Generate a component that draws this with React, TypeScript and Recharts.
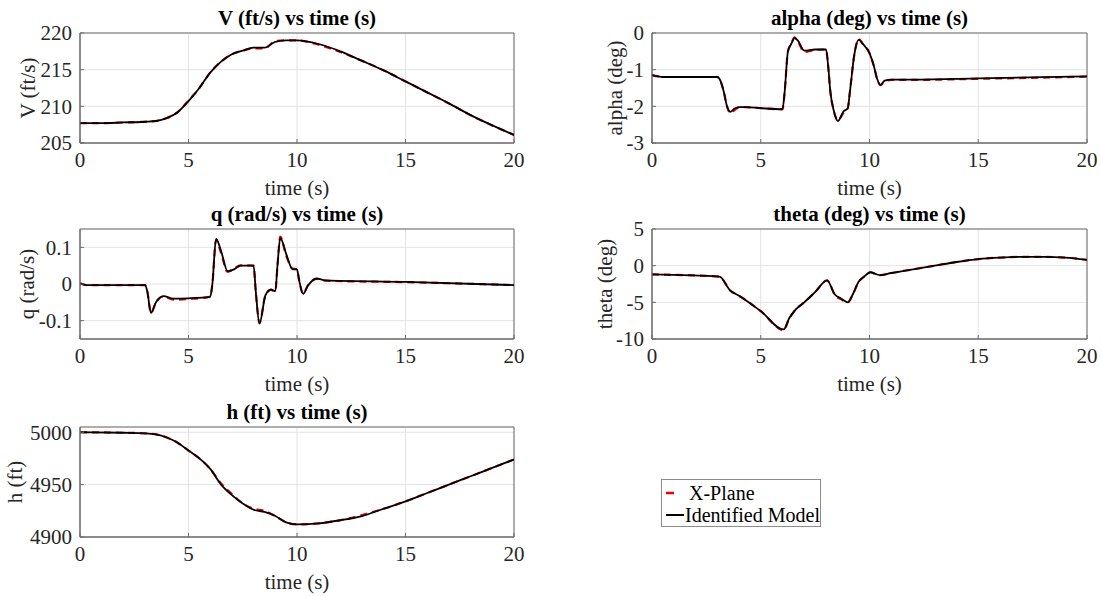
import React from 'react';
import {
  LineChart,
  Line,
  XAxis,
  YAxis,
  CartesianGrid,
  ReferenceArea,
} from 'recharts';

// ---- data (t in seconds) ----
const seriesNames = ['X-Plane', 'Identified Model'];
const timeTicks = [0, 5, 10, 15, 20];

const vTime = [0, 1, 2, 3, 3.5, 4, 4.5, 5, 5.5, 6, 6.5, 7, 7.5, 8, 8.5, 9, 9.5, 10, 11, 12, 13, 14, 15, 16, 17, 18, 19, 20];
const vXPlane = [207.7, 207.7, 207.8, 207.9, 208.0, 208.4, 209.2, 210.8, 212.5, 214.6, 216.1, 217.1, 217.6, 217.9, 217.9, 218.9, 219.0, 219.0, 218.4, 217.4, 216.2, 214.9, 213.4, 211.9, 210.4, 208.8, 207.4, 206.1];
const vModel = [207.7, 207.7, 207.8, 207.9, 208.0, 208.4, 209.2, 210.7, 212.5, 214.6, 216.1, 217.1, 217.6, 218.0, 218.0, 218.8, 219.0, 219.0, 218.5, 217.5, 216.2, 214.9, 213.4, 211.9, 210.4, 208.8, 207.4, 206.1];
const vTicks = [205, 210, 215, 220];

const aTime = [0, 0.5, 3, 3.1, 3.3, 3.45, 3.6, 3.8, 4, 4.3, 5, 6, 6.1, 6.25, 6.4, 6.55, 6.7, 7, 7.5, 8, 8.1, 8.2, 8.35, 8.55, 8.8, 9, 9.1, 9.3, 9.5, 9.7, 10, 10.2, 10.35, 10.5, 10.7, 11, 12, 15, 20];
const aXPlane = [-1.15, -1.2, -1.2, -1.25, -1.6, -2.0, -2.19, -2.1, -2.03, -2.02, -2.05, -2.08, -1.6, -0.5, -0.3, -0.12, -0.22, -0.52, -0.46, -0.45, -0.9, -1.6, -2.1, -2.38, -2.18, -2.05, -1.6, -0.6, -0.16, -0.3, -0.55, -0.9, -1.25, -1.42, -1.32, -1.28, -1.28, -1.25, -1.19];
const aModel = [-1.15, -1.2, -1.2, -1.25, -1.6, -2.0, -2.15, -2.06, -2.02, -2.02, -2.05, -2.08, -1.6, -0.5, -0.3, -0.14, -0.2, -0.48, -0.45, -0.45, -0.9, -1.6, -2.1, -2.4, -2.14, -2.05, -1.6, -0.6, -0.19, -0.3, -0.55, -0.9, -1.25, -1.42, -1.3, -1.27, -1.27, -1.24, -1.18];
const aTicks = [-3, -2, -1, 0];

const qTime = [0, 0.3, 3, 3.1, 3.27, 3.5, 3.85, 4.3, 5, 6, 6.1, 6.27, 6.5, 6.8, 7.1, 7.4, 8, 8.1, 8.27, 8.55, 8.8, 9, 9.1, 9.23, 9.5, 9.8, 10, 10.1, 10.28, 10.5, 10.9, 11.3, 15, 20];
const qXPlane = [0.002, -0.003, -0.003, -0.02, -0.079, -0.05, -0.034, -0.043, -0.041, -0.035, 0.0, 0.12, 0.085, 0.033, 0.042, 0.051, 0.05, -0.02, -0.106, -0.03, -0.016, -0.02, 0.05, 0.129, 0.078, 0.042, 0.04, 0.01, -0.026, -0.004, 0.014, 0.009, 0.005, -0.003];
const qModel = [0.002, -0.003, -0.003, -0.02, -0.079, -0.05, -0.033, -0.04, -0.039, -0.035, 0.0, 0.123, 0.09, 0.035, 0.04, 0.05, 0.05, -0.02, -0.108, -0.03, -0.015, -0.02, 0.05, 0.126, 0.082, 0.04, 0.04, 0.01, -0.027, -0.005, 0.015, 0.01, 0.006, -0.003];
const qTicks = [-0.1, 0, 0.1];

const thTime = [0, 3.1, 3.6, 4, 5, 6.05, 6.3, 6.6, 7, 7.5, 8.05, 8.4, 8.7, 9.0, 9.25, 9.5, 9.75, 10.05, 10.25, 10.5, 11, 12, 13, 14, 15, 16, 17, 18, 19, 20];
const thXPlane = [-1.2, -1.5, -3.4, -4.1, -6.2, -8.8, -7.3, -6.0, -5.0, -3.6, -2.0, -3.95, -4.6, -5.0, -3.8, -2.2, -1.5, -0.9, -1.1, -1.3, -1.0, -0.5, 0.0, 0.5, 0.9, 1.1, 1.2, 1.2, 1.1, 0.8];
const thModel = [-1.2, -1.5, -3.4, -4.1, -6.2, -8.7, -7.2, -6.0, -5.0, -3.6, -2.0, -3.9, -4.5, -5.0, -3.8, -2.2, -1.5, -0.9, -1.1, -1.3, -1.0, -0.5, 0.0, 0.5, 0.9, 1.1, 1.2, 1.2, 1.1, 0.8];
const thTicks = [-10, -5, 0, 5];

const hTime = [0, 2, 3, 3.5, 4, 4.5, 5, 5.5, 6, 6.5, 7, 7.5, 8, 8.5, 9, 9.5, 10, 11, 12, 13, 14, 15, 16, 17, 18, 19, 20];
const hXPlane = [5000, 4999.5, 4999, 4998, 4995, 4990, 4982.5, 4975, 4965, 4951, 4941, 4932, 4927, 4925, 4920, 4914, 4912, 4913, 4916, 4921, 4927, 4934, 4942, 4950, 4958, 4966, 4974];
const hModel = [5000, 4999.5, 4999, 4998, 4995, 4990, 4982.5, 4975, 4965, 4950, 4940, 4932, 4926, 4924, 4920, 4914, 4912, 4913, 4916, 4920, 4927, 4934, 4942, 4950, 4958, 4966, 4974];
const hTicks = [4900, 4950, 5000];

const FONT = '"Liberation Serif", "Times New Roman", serif';
const TEXT = '#262626';
const AXIS = '#6b6b6b';
const FS = 21;

const Y_AXIS_W = 80;
const TOP_PAD = 33;
const X_AXIS_H = 58;
const RIGHT_PAD = 12;
const PLOT_H = 110;

function buildRows(time: number[], xp: number[], md: number[]) {
  return time.map((t, i) => ({ t, xplane: xp[i], model: md[i] }));
}

interface SubPlotProps {
  left: number;
  top: number;
  plotW: number;
  title: string;
  yLabel: string;
  yLabelOffset: number;
  data: Array<{ t: number; xplane: number; model: number }>;
  domain: [number, number];
  ticks: number[];
}

const SubPlot: React.FC<SubPlotProps> = ({ left, top, plotW, title, yLabel, yLabelOffset, data, domain, ticks }) => {
  const width = Y_AXIS_W + plotW + RIGHT_PAD;
  const height = TOP_PAD + PLOT_H + X_AXIS_H;

  const yLabelContent = (props: any) => {
    const vb = props.viewBox || { x: 0, y: TOP_PAD, width: Y_AXIS_W, height: PLOT_H };
    const cx = vb.x + vb.width + yLabelOffset;
    const cy = vb.y + vb.height / 2;
    return (
      <text x={cx} y={cy} transform={`rotate(-90 ${cx} ${cy})`} textAnchor="middle"
        dominantBaseline="central" fontSize={FS} fontFamily={FONT} fill={TEXT}>
        {yLabel}
      </text>
    );
  };

  const xLabelContent = (props: any) => {
    const vb = props.viewBox || { x: Y_AXIS_W, y: TOP_PAD + PLOT_H, width: plotW, height: X_AXIS_H };
    return (
      <text x={vb.x + vb.width / 2} y={vb.y + 45} textAnchor="middle" dominantBaseline="central"
        fontSize={FS} fontFamily={FONT} fill={TEXT}>
        time (s)
      </text>
    );
  };

  return (
    <div style={{ position: 'absolute', left, top, width, height }}>
      <div style={{
        position: 'absolute', left: Y_AXIS_W, width: plotW, top: 8, lineHeight: '20px',
        textAlign: 'center', fontFamily: FONT, fontWeight: 'bold', fontSize: FS, color: '#000',
      }}>
        {title}
      </div>
      <LineChart width={width} height={height} data={data} style={{ fontFamily: FONT }}
        margin={{ top: TOP_PAD, right: RIGHT_PAD, left: 0, bottom: 0 }}>
        <CartesianGrid stroke="#e3e3e3" />
        <XAxis dataKey="t" type="number" domain={[0, 20]} ticks={timeTicks} allowDataOverflow
          height={X_AXIS_H} tickSize={-4} tickMargin={13} interval={0}
          stroke={AXIS} tick={{ fill: TEXT, fontSize: FS, fontFamily: FONT }}
          label={xLabelContent} />
        <YAxis type="number" domain={domain} ticks={ticks} allowDataOverflow width={Y_AXIS_W}
          tickSize={-4} tickMargin={12} interval={0}
          stroke={AXIS} tick={{ fill: TEXT, fontSize: FS, fontFamily: FONT }}
          label={yLabelContent} />
        <ReferenceArea x1={0} x2={20} y1={domain[0]} y2={domain[1]} fill="none" stroke={AXIS} strokeWidth={1} />
        <Line type="monotone" dataKey="xplane" name={seriesNames[0]} stroke="#ee0000" strokeWidth={2.2}
          strokeDasharray="7 5" dot={false} isAnimationActive={false} />
        <Line type="monotone" dataKey="model" name={seriesNames[1]} stroke="#000000" strokeWidth={1.8}
          dot={false} isAnimationActive={false} />
      </LineChart>
    </div>
  );
};

const Legend: React.FC = () => (
  <div style={{
    position: 'absolute', left: 661, top: 479, width: 158, height: 46, border: '1px solid #8c8c8c',
    background: '#fff', fontFamily: FONT, fontSize: 20, color: '#000',
  }}>
    <div style={{ position: 'absolute', left: 3, top: 2, height: 22, display: 'flex', alignItems: 'center' }}>
      <svg width={24} height={22}><line x1={1} y1={11} x2={9} y2={11} stroke="#ee0000" strokeWidth={2.5} /></svg>
      <span style={{ lineHeight: '22px' }}>{seriesNames[0]}</span>
    </div>
    <div style={{ position: 'absolute', left: 3, top: 24, height: 22, display: 'flex', alignItems: 'center' }}>
      <svg width={20} height={22}><line x1={1} y1={11} x2={19} y2={11} stroke="#000" strokeWidth={2} /></svg>
      <span style={{ lineHeight: '22px' }}>{seriesNames[1]}</span>
    </div>
  </div>
);

export default function App() {
  const colL = [80, 652];
  const colW = [434, 435];
  const rowT = [33, 229, 427];
  return (
    <div style={{ position: 'absolute', left: 0, top: 0, width: 1101, height: 596, background: '#fff', overflow: 'hidden' }}>
      <style>{`.recharts-text, .recharts-cartesian-axis-tick-value { font-family: ${FONT}; }`}</style>
      <SubPlot left={colL[0] - Y_AXIS_W} top={rowT[0] - TOP_PAD} plotW={colW[0]} title="V (ft/s) vs time (s)" yLabel="V (ft/s)"
        yLabelOffset={-52} data={buildRows(vTime, vXPlane, vModel)} domain={[205, 220]} ticks={vTicks} />
      <SubPlot left={colL[1] - Y_AXIS_W} top={rowT[0] - TOP_PAD} plotW={colW[1]} title="alpha (deg) vs time (s)" yLabel="alpha (deg)"
        yLabelOffset={-37} data={buildRows(aTime, aXPlane, aModel)} domain={[-3, 0]} ticks={aTicks} />
      <SubPlot left={colL[0] - Y_AXIS_W} top={rowT[1] - TOP_PAD} plotW={colW[0]} title="q (rad/s) vs time (s)" yLabel="q (rad/s)"
        yLabelOffset={-53} data={buildRows(qTime, qXPlane, qModel)} domain={[-0.15, 0.15]} ticks={qTicks} />
      <SubPlot left={colL[1] - Y_AXIS_W} top={rowT[1] - TOP_PAD} plotW={colW[1]} title="theta (deg) vs time (s)" yLabel="theta (deg)"
        yLabelOffset={-47} data={buildRows(thTime, thXPlane, thModel)} domain={[-10, 5]} ticks={thTicks} />
      <SubPlot left={colL[0] - Y_AXIS_W} top={rowT[2] - TOP_PAD} plotW={colW[0]} title="h (ft) vs time (s)" yLabel="h (ft)"
        yLabelOffset={-65} data={buildRows(hTime, hXPlane, hModel)} domain={[4900, 5005]} ticks={hTicks} />
      <Legend />
    </div>
  );
}
